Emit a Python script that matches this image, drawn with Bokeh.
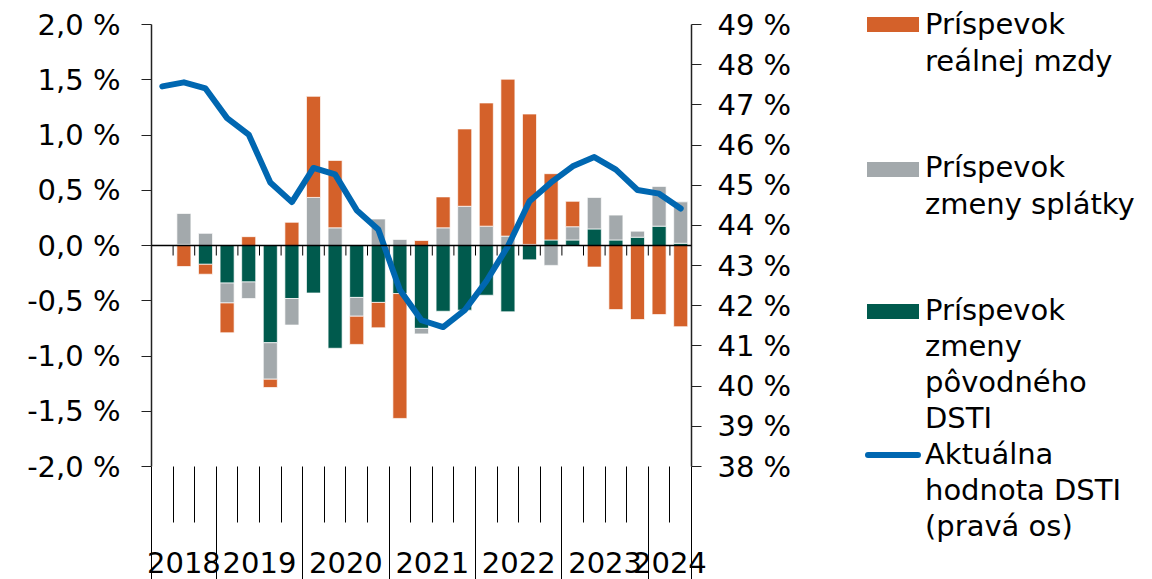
import numpy as np
from bokeh.plotting import figure
from bokeh.models import (Range1d, LinearAxis, FixedTicker, CustomJSTickFormatter,
                          ColumnDataSource, Span, AllLabels, Div)
from bokeh.layouts import row
from bokeh.embed import file_html
from bokeh.resources import INLINE

# ---------------- data ----------------
quarters = ["2018Q2", "2018Q3", "2018Q4",
            "2019Q1", "2019Q2", "2019Q3", "2019Q4",
            "2020Q1", "2020Q2", "2020Q3", "2020Q4",
            "2021Q1", "2021Q2", "2021Q3", "2021Q4",
            "2022Q1", "2022Q2", "2022Q3", "2022Q4",
            "2023Q1", "2023Q2", "2023Q3", "2023Q4",
            "2024Q1", "2024Q2"]

# Príspevok reálnej mzdy (p.b.)
wage = [0.0, -0.19, -0.09, -0.27, 0.08, -0.075, 0.21, 0.915, 0.61, -0.255,
        -0.23, -1.13, 0.045, 0.28, 0.70, 1.115, 1.42, 1.18, 0.60, 0.23,
        -0.195, -0.58, -0.67, -0.625, -0.735]
# Príspevok zmeny splátky
payment = [0.0, 0.28, 0.11, -0.18, -0.15, -0.33, -0.24, 0.435, 0.16, -0.17,
           0.24, 0.055, -0.05, 0.16, 0.355, 0.175, 0.085, 0.01, -0.18, 0.12,
           0.285, 0.225, 0.055, 0.36, 0.375]
# Príspevok zmeny pôvodného DSTI
dsti_orig = [0.0, 0.01, -0.17, -0.34, -0.33, -0.88, -0.48, -0.43, -0.93, -0.47,
             -0.515, -0.435, -0.75, -0.595, -0.585, -0.45, -0.60, -0.13, 0.05, 0.05,
             0.15, 0.05, 0.075, 0.175, 0.02]
# Aktuálna hodnota DSTI (pravá os, %)
dsti_actual = [47.46, 47.56, 47.41, 46.67, 46.26, 45.07, 44.58, 45.43, 45.27, 44.38,
               43.90, 42.39, 41.64, 41.47, 41.89, 42.61, 43.48, 44.60, 45.07, 45.47,
               45.70, 45.39, 44.88, 44.79, 44.42]

left_ticks = [-2.0, -1.5, -1.0, -0.5, 0.0, 0.5, 1.0, 1.5, 2.0]
right_ticks = [38, 39, 40, 41, 42, 43, 44, 45, 46, 47, 48, 49]

legend_orange = ["Príspevok", "reálnej mzdy"]
legend_grey = ["Príspevok", "zmeny splátky"]
legend_green = ["Príspevok", "zmeny", "pôvodného", "DSTI"]
legend_blue = ["Aktuálna", "hodnota DSTI", "(pravá os)"]

# ---------------- style ----------------
FONT = "DejaVu Sans"
FS = "29px"
ORANGE = "#D4612A"
GREY = "#A3A9AC"
GREEN = "#005A4D"
BLUE = "#0067B1"
AXIS = "#222222"

W_TOTAL = 1152
H = 579
LEFT = 151
TOP = 24
FRAME_W = 540
FRAME_H = 442
RIGHT_BORDER = 115
W1 = LEFT + FRAME_W + RIGHT_BORDER
W2 = W_TOTAL - W1
PX_PER = FRAME_H / 4.0
YMIN, YMAX = left_ticks[0], left_ticks[-1]
QTICK = 56               # quarter separator length below the plot
LBL_STANDOFF = 29
LBL_EXTENT = 24          # measured label extent of the year axis
YEAR_PANEL = QTICK + LBL_STANDOFF + LBL_EXTENT


def right_of(v):
    return 43.5 + 2.75 * v


n = len(quarters)
x = np.arange(1, n + 1)

p = figure(width=W1, height=H, title=None,
           x_range=Range1d(0.5, n + 0.5), y_range=Range1d(YMIN, YMAX),
           output_backend="svg", toolbar_location=None,
           x_axis_location=None, y_axis_location="left",
           min_border_left=LEFT, min_border_right=RIGHT_BORDER,
           min_border_top=TOP, min_border_bottom=0)
p.extra_y_ranges = {"dsti": Range1d(right_of(YMIN), right_of(YMAX))}
p.outline_line_color = None
p.grid.grid_line_color = None
p.background_fill_color = "white"
p.border_fill_color = "white"

# stacked bars (green closest to zero, then grey, then orange)
series = [(dsti_orig, GREEN), (payment, GREY), (wage, ORANGE)]
pos = np.zeros(n)
neg = np.zeros(n)
for vals, col in series:
    v = np.array(vals, dtype=float)
    bottom = np.where(v >= 0, pos, neg)
    top = bottom + v
    pos = np.where(v >= 0, top, pos)
    neg = np.where(v < 0, top, neg)
    src = ColumnDataSource(dict(x=x, bottom=bottom, top=top))
    p.vbar(x="x", bottom="bottom", top="top", width=0.65, source=src,
           fill_color=col, line_color="white", line_width=1, line_alpha=0.7)

# zero line
p.add_layout(Span(location=0, dimension="width", line_color="black", line_width=1.5))

# category boundaries
years = [q_[:4] for q_ in quarters]
bounds = np.arange(1, n) + 0.5
is_year = np.array([years[i - 1] != years[i] for i in range(1, n)])
tick_len = 10 / PX_PER
p.segment(x0=bounds, y0=np.zeros(len(bounds)), x1=bounds,
          y1=np.full(len(bounds), -tick_len), line_color="black", line_width=1)

short_b = [float(b) for b in bounds[~is_year]]
year_b = [0.5] + [float(b) for b in bounds[is_year]] + [n + 0.5]

# year groups
uyears = []
for yv in years:
    if yv not in uyears:
        uyears.append(yv)
ycent = [float(np.mean([x[i] for i in range(n) if years[i] == yv])) for yv in uyears]

# DSTI line
p.line(x, dsti_actual, y_range_name="dsti", line_width=6, line_color=BLUE,
       line_join="round", line_cap="round")

# category axis (year labels + quarter separators)
xa = LinearAxis(ticker=FixedTicker(ticks=ycent, minor_ticks=short_b),
                formatter=CustomJSTickFormatter(
                    args=dict(c=ycent, t=uyears),
                    code="const i = c.findIndex(v => Math.abs(v - tick) < 1e-6); return i >= 0 ? t[i] : '';"),
                major_label_policy=AllLabels())
xa.axis_line_color = None
xa.major_tick_out = QTICK
xa.major_tick_in = 0
xa.major_tick_line_color = None
xa.minor_tick_out = QTICK
xa.minor_tick_in = 0
xa.minor_tick_line_color = "black"
xa.minor_tick_line_width = 1
xa.major_label_standoff = LBL_STANDOFF
xa.major_label_text_font = FONT
xa.major_label_text_font_size = FS
xa.major_label_text_color = "black"
p.add_layout(xa, "below")

# year separators
xb = LinearAxis(ticker=FixedTicker(ticks=year_b, minor_ticks=[]),
                formatter=CustomJSTickFormatter(code="return '';"))
xb.axis_line_color = None
xb.major_tick_in = YEAR_PANEL
xb.major_tick_out = H - TOP - FRAME_H - YEAR_PANEL
xb.major_tick_line_color = "black"
xb.major_tick_line_width = 1
xb.minor_tick_in = 0
xb.minor_tick_out = 0
xb.major_label_standoff = 0
xb.major_label_text_font_size = "0px"
p.add_layout(xb, "below")

# left axis
ya = p.yaxis[0]
ya.ticker = FixedTicker(ticks=left_ticks, minor_ticks=[])
ya.formatter = CustomJSTickFormatter(code="return tick.toFixed(1).replace('.', ',') + ' %';")
ya.major_tick_out = 10
ya.major_tick_in = 0
ya.minor_tick_out = 0
ya.minor_tick_in = 0
ya.major_label_standoff = 21
ya.major_label_text_font = FONT
ya.major_label_text_font_size = FS
ya.major_label_text_color = "black"
ya.axis_line_color = AXIS
ya.major_tick_line_color = AXIS
ya.axis_line_width = 1.5

# right axis
ra = LinearAxis(y_range_name="dsti",
                ticker=FixedTicker(ticks=right_ticks, minor_ticks=[]),
                formatter=CustomJSTickFormatter(code="return tick.toFixed(0) + ' %';"))
ra.major_tick_out = 10
ra.major_tick_in = 0
ra.minor_tick_out = 0
ra.minor_tick_in = 0
ra.major_label_standoff = 16
ra.major_label_text_font = FONT
ra.major_label_text_font_size = FS
ra.major_label_text_color = "black"
ra.axis_line_color = AXIS
ra.major_tick_line_color = AXIS
ra.axis_line_width = 1.5
p.add_layout(ra, "right")

# ---------------- legend (HTML panel beside the plot) ----------------
sw_left, sw_w, txt_x = 61, 52, 119
swatches = [(17, 15, ORANGE, 0), (162, 15, GREY, 0), (304, 15, GREEN, 0),
            (452, 6, BLUE, 3)]
legend_lines = legend_orange + legend_grey + legend_green + legend_blue
legend_tops = [10, 47, 153, 190, 296, 332, 368, 404, 440, 476, 512]

parts = [f'<div style="position:relative;width:{W2}px;height:{H}px;margin:0;padding:0;'
         f'font-family:\'{FONT}\';font-size:{FS};color:black;overflow:visible;">']
for i, (top, hgt, col, rad) in enumerate(swatches):
    left = sw_left - (2 if rad else 0)
    width = sw_w + (4 if rad else 0)
    parts.append(f'<div style="position:absolute;left:{left}px;top:{top}px;width:{width}px;'
                 f'height:{hgt}px;background:{col};border-radius:{rad}px;"></div>')
for t, top in zip(legend_lines, legend_tops):
    parts.append(f'<div style="position:absolute;left:{txt_x}px;top:{top}px;'
                 f'line-height:29px;white-space:nowrap;">{t}</div>')
parts.append('</div>')
legend_div = Div(text="".join(parts), width=W2, height=H, margin=0)

layout = row(p, legend_div)
open("out.html", "w").write(file_html(layout, INLINE))
